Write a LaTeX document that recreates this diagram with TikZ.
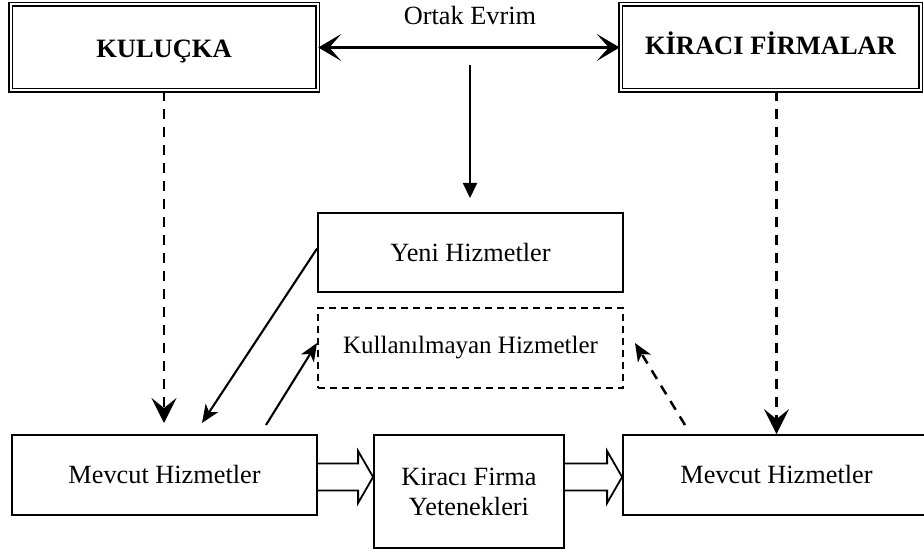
\documentclass[tikz,border=0pt]{standalone}
\usepackage{fontspec}
\setmainfont{Liberation Serif}
\usetikzlibrary{arrows.meta,calc}

\tikzset{
  txt/.style={font=\fontsize{26.3}{30}\selectfont},
  titlebox/.style={draw, double, double distance=2pt, line width=1.6pt,
    font=\fontsize{26.5}{30}\selectfont\bfseries, inner sep=0pt, text depth=0pt},
  plainbox/.style={draw, line width=1.8pt, txt, inner sep=0pt, align=center},
  dashbox/.style={plainbox, dash pattern=on 7pt off 5pt},
  link/.style={line width=2.1pt},
  dlink/.style={line width=2.5pt, dash pattern=on 10pt off 8pt},
  bigtip/.tip={Stealth[length=23pt, width=27pt, inset=12pt]},
  droptip/.tip={Stealth[length=25pt, width=25pt, inset=10pt]},
  smalltip/.tip={Stealth[length=18pt, width=15pt, inset=5pt]},
  tritip/.tip={Triangle[length=15pt, width=14pt]},
  hollowarrow/.style={line width=1.8pt, line join=miter},
}

\begin{document}
\begin{tikzpicture}[x=1pt, y=-1pt]
  \useasboundingbox (0,0) rectangle (924,553);

  % top-level actors
  \node[titlebox, text height=20pt, minimum width=307pt, minimum height=86pt] (kul) at (164,47.5) {KULUÇKA};
  \node[titlebox, text height=14pt, minimum width=300pt, minimum height=86pt] (kir) at (770.5,47.5) {KİRACI FİRMALAR};
  \node[txt] (oe) at (470,16) {Ortak Evrim};

  % services in the middle
  \node[plainbox, minimum width=305pt, minimum height=79pt] (yeni) at (470.5,252.5) {Yeni Hizmetler};
  \node[dashbox, font=\fontsize{25}{30}\selectfont, minimum width=305pt, minimum height=80pt] (kull) at (470.5,348) {Kullanılmayan Hizmetler};

  % bottom row
  \node[plainbox, minimum width=305pt, minimum height=80pt] (m1) at (164.5,475) {Mevcut Hizmetler};
  \node[plainbox, minimum width=190pt, minimum height=113pt] (kf) at (469,491.5) {Kiracı Firma\\Yetenekleri};
  \node[plainbox, minimum width=307pt, minimum height=80pt] (m2) at (776.5,475) {Mevcut Hizmetler};

  % free ends of the connectors
  \coordinate (oeA) at (470,65);
  \coordinate (oeB) at (470,198);
  \coordinate (kulEnd) at (164,423);
  \coordinate (yeniEnd) at (202,423);
  \coordinate (m1Start) at (266,425);
  \coordinate (kullL) at (317,343);
  \coordinate (m2Start) at (685,425);
  \coordinate (kullR) at (635,343);
  \coordinate (lvl) at (0,477);

  % co-evolution
  \draw[link, bigtip-bigtip] (kul.east) -- (kir.west);
  \draw[link, -tritip] (oeA) -- (oeB);

  % existing services of each side
  \draw[dlink, -droptip] (kul.south) -- (kulEnd);
  \draw[dlink, -droptip] (kir.south -| m2.north) -- (m2.north);

  % new / unused services
  \draw[link, -smalltip] ($(yeni.west)+(0,-4)$) -- (yeniEnd);
  \draw[link, -smalltip] (m1Start) -- (kullL);
  \draw[dlink, -smalltip] (m2Start) -- (kullR);

  % hollow block arrows along the bottom row
  \foreach \a/\b in {m1/kf, kf/m2}{
    \draw[hollowarrow]
      ($(\a.east|-lvl)+(0,-13.5)$) -- ($(\b.west|-lvl)+(-15,-13.5)$)
      -- ($(\b.west|-lvl)+(-15,-26)$) -- (\b.west|-lvl)
      -- ($(\b.west|-lvl)+(-15,26)$) -- ($(\b.west|-lvl)+(-15,13.5)$)
      -- ($(\a.east|-lvl)+(0,13.5)$);
  }
\end{tikzpicture}
\end{document}
